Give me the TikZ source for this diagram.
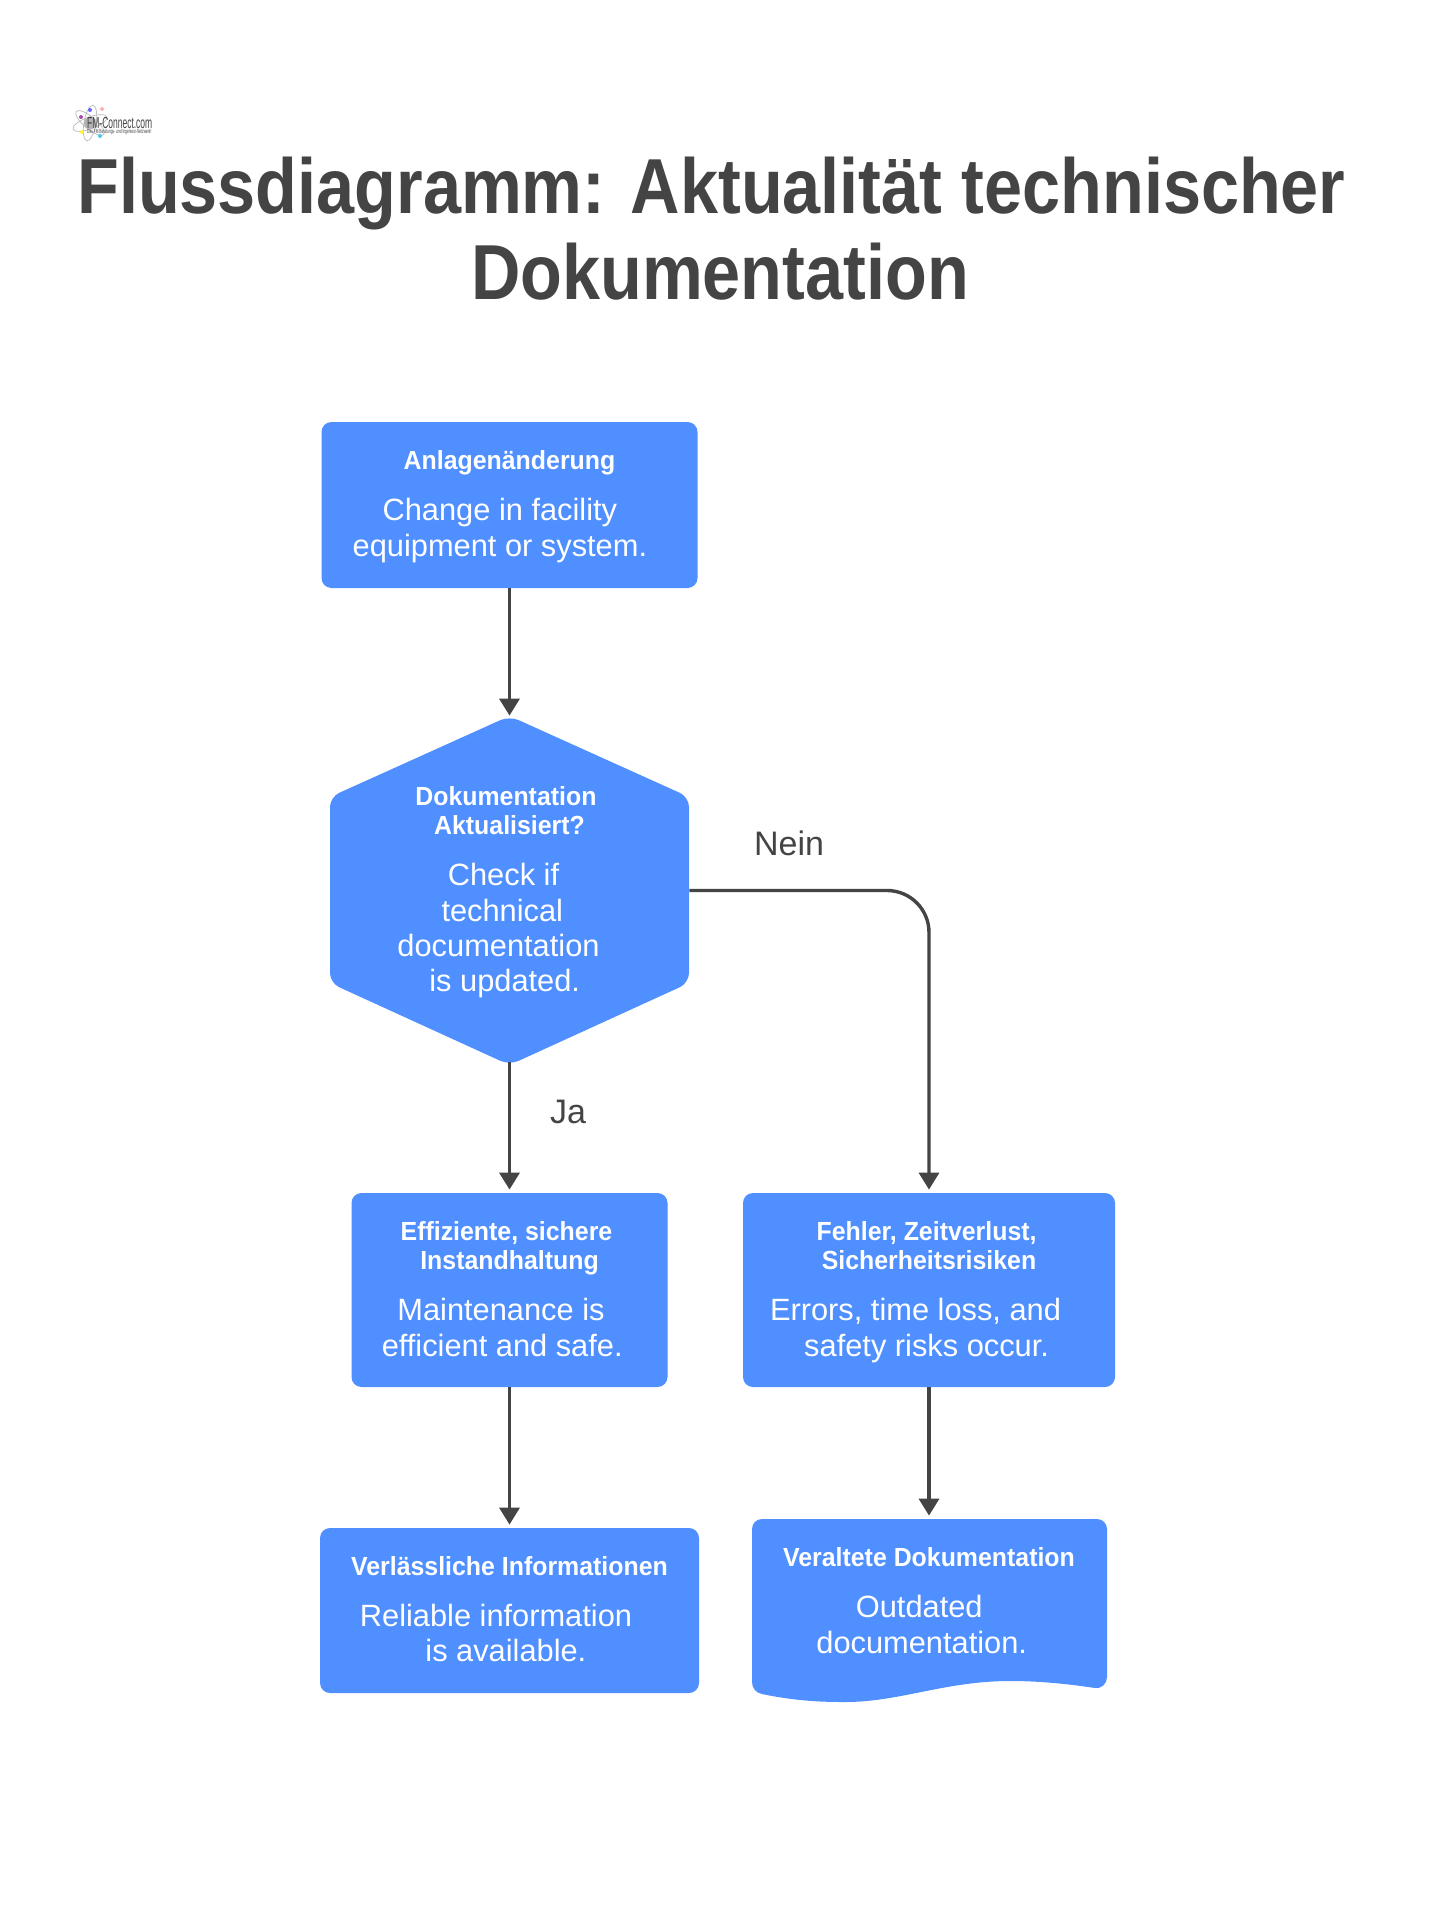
\documentclass[tikz,border=0pt]{standalone}
\usepackage{fontspec}
\usetikzlibrary{arrows.meta}
\setmainfont{Liberation Sans}
\newfontface\titlefont[FakeStretch=0.877]{Liberation Sans Bold}
\newfontface\headfont[FakeStretch=0.95]{Liberation Sans Bold}
\definecolor{blu}{HTML}{4F8FFF}
\definecolor{ink}{HTML}{444444}
\newcommand{\hd}[1]{{\fontsize{13.1}{14.7}\headfont #1}}
\newcommand{\bd}[1]{{\fontsize{15.4}{14.7}\selectfont #1}}
\newcommand{\rs}[1]{\rule{#1pt}{0pt}}
\newcommand{\tp}[1]{\rule{0pt}{#1pt}}
\newcommand{\bt}[1]{\rule[-#1pt]{0pt}{0pt}}
\tikzset{
  x=0.5pt,y=-0.5pt,
  boxnode/.style={fill=blu,rounded corners=5pt,text=white,inner sep=0pt,align=center,font=\fontsize{15.4}{14.7}\selectfont},
  textblock/.style={text=white,inner sep=0pt,align=center,font=\fontsize{15.4}{14.7}\selectfont},
  shapefill/.style={fill=blu,rounded corners=5pt},
  flow/.style={draw=ink,line width=1.7pt,-{Triangle[length=8.5pt,width=10pt]},shorten >=1.5pt},
  lab/.style={text=ink,font=\fontsize{17}{20}\selectfont,inner sep=0pt},
}
\begin{document}
\begin{tikzpicture}
\useasboundingbox (0,0) rectangle (1441,1920);
\fill[white] (0,0) rectangle (1441,1920);
% logo
\foreach \a in {20,80,140}{\draw[gray!55,line width=.35pt,rotate around={\a:(90,123)}] (90,123) ellipse [x radius=18,y radius=6];}
\fill[gray!60] (90,123) circle (6);
\fill[violet!70] (81,117) circle (2);\fill[blue!60] (90,110) circle (2);\fill[red!30] (102,109) circle (2);
\fill[yellow!80] (82,132) circle (2);\fill[cyan!70] (100,136) circle (2);
\node[text=ink,inner sep=0pt,anchor=west,font=\fontsize{8}{9}\selectfont,xscale=.53,transform shape] (logoname) at (87,123) {FM-Connect.com};
\node[text=ink,inner sep=0pt,anchor=west,font=\fontsize{3}{3}\selectfont,xscale=.54,transform shape] (logosub) at (87,132) {Das FM Beratungs- und Ingenieur-Netzwerk!};
% title
\node[text=ink,inner sep=0pt,align=center,font=\fontsize{39}{43.5}\titlefont,anchor=base] (title) at (720,300) {Flussdiagramm: Aktualität technischer\rs{8.6}\\Dokumentation};
% boxes
\node[boxnode,minimum width=188pt,minimum height=83pt] (a) at (509.5,505) {\tp{12}\hd{Anlagenänderung}\\[10.9pt]\bd{Change in facility}\rs{9.6}\\[3pt]\bd{equipment or system.}\rs{9.6}\bt{4}};
\fill[shapefill] (509.5,716) -- (689,797) -- (689,983) -- (509.5,1065) -- (330,983) -- (330,797) -- cycle;
\node[textblock,minimum width=179.5pt,minimum height=171.5pt] (h) at (509.5,890.5) {\tp{12}\hd{Dokumentation}\rs{3.6}\\\hd{Aktualisiert?}\\[10.9pt]\bd{Check if}\rs{6}\\[3pt]\bd{technical}\rs{7.2}\\[3pt]\bd{documentation}\rs{11}\\[3pt]\bd{is updated.}\rs{4.8}\bt{4}};
\node[boxnode,minimum width=158pt,minimum height=97pt] (l1) at (509.5,1290) {\tp{12}\hd{Effiziente, sichere}\rs{3}\\\hd{Instandhaltung}\\[10.9pt]\bd{Maintenance is}\rs{8.5}\\[3pt]\bd{efficient and safe.}\rs{7.3}\bt{4}};
\node[boxnode,minimum width=186pt,minimum height=97pt] (r1) at (929,1290) {\tp{12}\hd{Fehler, Zeitverlust,}\rs{2.4}\\\hd{Sicherheitsrisiken}\\[10.9pt]\bd{Errors, time loss, and}\rs{13.5}\\[3pt]\bd{safety risks occur.}\rs{2.4}\bt{4}};
\node[boxnode,minimum width=189.5pt,minimum height=82.5pt] (l2) at (509.5,1610.5) {\tp{12}\hd{Verlässliche Informationen}\\[10.9pt]\bd{Reliable information}\rs{13.5}\\[3pt]\bd{is available.}\rs{3.6}\bt{4}};
\fill[blu] (752,1529) arc (180:270:10) -- (1097,1519) arc (-90:0:10) -- (1107,1677)
  .. controls (1107,1684) and (1101,1689) .. (1095,1688)
  .. controls (1075,1685) and (1045,1681) .. (1010,1681)
  .. controls (945,1681) and (900,1702) .. (845,1702)
  .. controls (830,1702) and (800,1702) .. (762,1694)
  .. controls (756,1693) and (752,1688) .. (752,1682) -- cycle;
\node[textblock,minimum width=177.5pt,minimum height=90pt] (r2) at (929,1609) {\tp{10}\hd{Veraltete Dokumentation}\\[10.9pt]\bd{Outdated}\rs{9.8}\\[3pt]\bd{documentation.}\rs{7.3}\bt{9}};
% connectors
\draw[flow] (a) -- (h);
\draw[flow] (h) -- (l1);
\draw[flow,rounded corners=21pt] (h.east) -| (r1.north);
\draw[flow] (l1) -- (l2);
\draw[flow] (r1) -- (r2);
\node[lab] (ja) at (568,1112) {Ja};
\node[lab] (nein) at (789,843) {Nein};
\end{tikzpicture}
\end{document}
